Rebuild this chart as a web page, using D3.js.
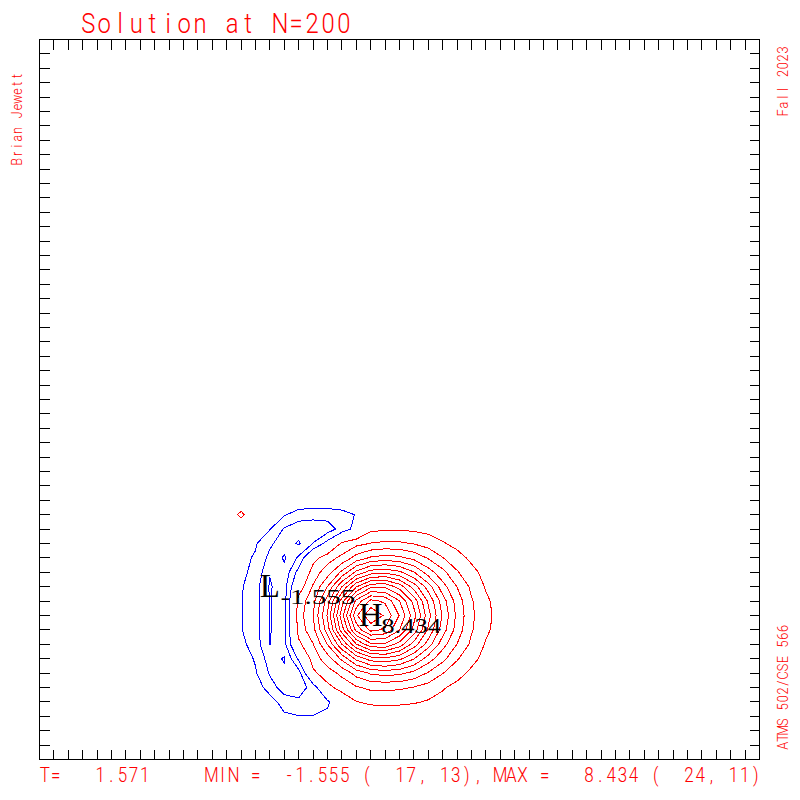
<!DOCTYPE html>
<html><head><meta charset="utf-8">
<script src="https://cdn.jsdelivr.net/npm/d3@7"></script>
<style>html,body{margin:0;padding:0;background:#fff;} svg{display:block;}</style>
</head><body>
<svg id="chart" width="800" height="800"></svg>
<script>
// ---------------- data ----------------
const titleText  = "Solution at N=200";
const authorText = "Brian Jewett";
const termText   = "Fall 2023";
const courseText = "ATMS 502/CSE 566";
const timeValue  = 1.571;
const minInfo = [-1.555, 17, 13];   // value, i, j
const maxInfo = [8.434, 24, 11];
const gridN = 51;                    // grid points per side
const posLevels = [0.5, 1.0, 1.5, 2.0, 2.5, 3.0, 3.5, 4.0, 4.5, 5.0, 5.5, 6.0, 6.5, 7.0, 7.5, 8.0];
const negLevels = [-0.5, -1.0, -1.5];
const firstCol = 13;                 // grid i of first value in each row
const rowJ = [19, 18, 17, 16, 15, 14, 13, 12, 11, 10, 9, 8, 7, 6, 5, 4, 3];
// values for i = 13 .. 35 (everything else is 0)
const gridRows = [
 [0,0,0,0,0,-0.05,-0.08,-0.1,-0.1,-0.08,-0.03,0,0,0,0,0,0,0,0,0,0,0,0],
 [0,0,0.66,-0.1,-0.3,-0.45,-0.75,-0.8,-0.8,-0.7,-0.47,0.05,0.11,0.12,0.11,0.09,0.06,0.02,0,0,0,0,0],
 [0,0,0,-0.15,-0.48,-1.05,-1.3,-1.35,-1.25,-0.8,-0.3,0.39,0.44,0.45,0.41,0.34,0.24,0.12,0.07,0.01,0,0,0],
 [0,-0.05,-0.25,-0.45,-0.9,-1.3,-1.56,-0.98,-0.3,0.6,0.85,1.02,1.09,1.08,0.97,0.79,0.55,0.35,0.19,0.08,0.02,0,0],
 [0,-0.05,-0.38,-0.55,-1.15,-1.56,-0.9,0.3,0.8,1.12,1.70,2.07,2.2,2.11,1.85,1.45,1.02,0.69,0.39,0.20,0.07,0,0],
 [0,-0.08,-0.42,-0.6,-1.47,-1.35,-0.3,0.75,1.26,2.12,3.13,3.75,3.88,3.61,3.03,2.25,1.65,1.05,0.65,0.34,0.13,0.04,0],
 [0,-0.1,-0.45,-0.8,-1.555,-1.2,0.2,1.05,2.02,3.49,4.97,5.87,5.92,5.29,4.28,3.25,2.2,1.49,0.89,0.45,0.22,0.08,0],
 [0,-0.1,-0.47,-0.8,-1.53,-1.2,0.7,1.33,2.76,4.76,6.65,7.65,7.41,6.52,5.31,3.92,2.74,1.78,1.05,0.59,0.29,0.10,0.01],
 [0,-0.12,-0.47,-0.8,-1.54,-1.2,0.75,1.49,3.07,5.31,7.42,8.434,7.91,6.97,5.70,4.19,2.93,1.88,1.10,0.64,0.31,0.10,0.02],
 [0,-0.1,-0.47,-0.8,-1.53,-1.2,0.7,1.33,2.76,4.76,6.65,7.65,7.41,6.52,5.31,3.92,2.74,1.78,1.05,0.59,0.29,0.10,0.01],
 [0,-0.08,-0.35,-0.75,-1.51,-1.15,0.38,0.98,2.02,3.49,4.97,5.87,5.92,5.29,4.28,3.25,2.2,1.49,0.89,0.45,0.22,0.08,0],
 [0,-0.02,-0.25,-0.55,-1.25,-1.56,-0.4,0.75,1.26,2.12,3.13,3.75,3.88,3.61,3.03,2.25,1.65,1.05,0.65,0.34,0.13,0.04,0],
 [0,0,-0.12,-0.45,-1.05,-1.35,-1.2,0.38,0.8,1.12,1.70,2.07,2.2,2.11,1.85,1.45,1.02,0.69,0.39,0.20,0.07,0,0],
 [0,0,0,-0.15,-0.8,-1.2,-1.25,-0.8,0.35,0.7,0.95,1.1,1.09,1.08,0.97,0.79,0.55,0.35,0.19,0.08,0.02,0,0],
 [0,0,0,0,-0.2,-0.8,-0.9,-0.85,-0.6,0.1,0.48,0.6,0.62,0.6,0.55,0.45,0.34,0.22,0.12,0.05,0.01,0,0],
 [0,0,0,0,-0.1,-0.38,-0.48,-0.48,-0.38,0.02,0.08,0.12,0.14,0.15,0.14,0.11,0.08,0.04,0.02,0,0,0,0],
 [0,0,0,0,0,-0.03,-0.05,-0.08,-0.05,0,0,0,0,0,0,0,0,0,0,0,0,0,0]
];

// ---------------- build grid ----------------
const values = new Array(gridN * gridN).fill(0);
gridRows.forEach((row, k) => {
  const j = rowJ[k];
  row.forEach((v, m) => { values[(j - 1) * gridN + (firstCol + m - 1)] = v; });
});

const svg = d3.select("#chart");
const RED = "#ff0000", BLUE = "#0000ff";
const x = d3.scaleLinear().domain([1, gridN]).range([39.5, 759.5]);
const y = d3.scaleLinear().domain([1, gridN]).range([759.5, 39.5]);

// frame + ticks
const axis = svg.append("g").attr("stroke", "#000").attr("stroke-width", 1)
  .attr("shape-rendering", "crispEdges").attr("fill", "none");
axis.append("rect").attr("x", x(1)).attr("y", y(gridN))
  .attr("width", x(gridN) - x(1)).attr("height", y(1) - y(gridN));
const tickIdx = d3.range(2, gridN);
const TL = 10;
tickIdx.forEach(t => {
  axis.append("line").attr("x1", x(t)).attr("x2", x(t)).attr("y1", y(gridN)).attr("y2", y(gridN) + TL);
  axis.append("line").attr("x1", x(t)).attr("x2", x(t)).attr("y1", y(1)).attr("y2", y(1) - TL);
  axis.append("line").attr("y1", y(t)).attr("y2", y(t)).attr("x1", x(1)).attr("x2", x(1) + TL);
  axis.append("line").attr("y1", y(t)).attr("y2", y(t)).attr("x1", x(gridN)).attr("x2", x(gridN) - TL);
});

// contours
const proj = d3.geoTransform({ point(px, py) { this.stream.point(x(px + 0.5), y(py + 0.5)); } });
const path = d3.geoPath(proj);
const gen = d3.contours().size([gridN, gridN]);
const cg = svg.append("g").attr("fill", "none").attr("stroke-width", 1).attr("shape-rendering", "crispEdges");
cg.selectAll("path.pos").data(gen.thresholds(posLevels)(values)).join("path")
  .attr("class", "pos").attr("stroke", RED).attr("d", path);
const negValues = values.map(v => -v);
cg.selectAll("path.neg").data(gen.thresholds(negLevels.map(v => -v))(negValues)).join("path")
  .attr("class", "neg").attr("stroke", BLUE).attr("d", path);

// H / L labels
const serif = "'Liberation Serif', 'DejaVu Serif', serif";
function extremum(letter, info, subLen) {
  const cx = x(info[1]), cy = y(info[2]);
  svg.append("text").attr("x", cx).attr("y", cy + 10.5).attr("text-anchor", "middle")
    .attr("font-family", serif).attr("font-size", 33).attr("fill", "#000").text(letter);
  svg.append("text").attr("x", cx + 10.5).attr("y", cy + 17.5)
    .attr("font-family", serif).attr("font-size", 21).attr("fill", "#000")
    .attr("textLength", subLen).attr("lengthAdjust", "spacingAndGlyphs")
    .text(info[0].toFixed(3));
}
extremum("L", minInfo, 75);
extremum("H", maxInfo, 60);

// monospace style red texts
const mono = "Roboto, 'DejaVu Sans', sans-serif";
function monoText(str, x0, y0, pitch, size, rotated) {
  const sx = 0.85;
  const tr = rotated ? `translate(${x0},${y0}) rotate(-90) scale(${sx},1)` : `translate(${x0},${y0}) scale(${sx},1)`;
  svg.append("text").attr("transform", tr)
    .attr("x", Array.from(str, (_, k) => (k * pitch / sx).toFixed(2)).join(" "))
    .attr("y", 0).attr("text-anchor", "middle").style("white-space", "pre")
    .attr("font-family", mono).attr("font-weight", 300).attr("font-size", size)
    .attr("fill", RED).text(str);
}
const f3 = v => v.toFixed(3).padStart(8);
const statusText = "T=" + f3(timeValue) + "     MIN =" + f3(minInfo[0]) + " (" + String(minInfo[1]).padStart(4) + "," +
  String(minInfo[2]).padStart(3) + "), MAX =" + f3(maxInfo[0]) + " (" + String(maxInfo[1]).padStart(4) + "," +
  String(maxInfo[2]).padStart(3) + ")";
monoText(titleText, 88.3, 33.3, 15.98, 28, false);
monoText(statusText, 44.7, 782.3, 11.11, 20, false);
monoText(authorText, 21.7, 161.7, 7.8, 14.5, true);
monoText(termText, 788.3, 112.8, 7.85, 15, true);
monoText(courseText, 788.3, 745.8, 7.83, 15, true);
</script>
</body></html>
